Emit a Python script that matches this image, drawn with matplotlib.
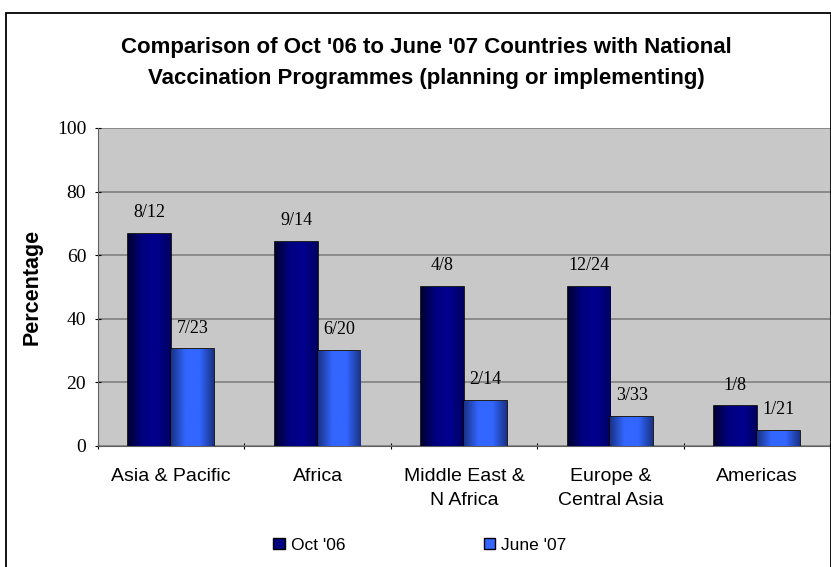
import numpy as np
import matplotlib.pyplot as plt
from matplotlib.colors import LinearSegmentedColormap
from matplotlib.patches import Rectangle

regions = ['Asia & Pacific', 'Africa', 'Middle East &\nN Africa',
           'Europe &\nCentral Asia', 'Americas']
oct06 = [66.7, 64.3, 50.0, 50.0, 12.5]
june07 = [30.4, 30.0, 14.3, 9.1, 4.8]
oct06_labels = ['8/12', '9/14', '4/8', '12/24', '1/8']
june07_labels = ['7/23', '6/20', '2/14', '3/33', '1/21']

dark_cmap = LinearSegmentedColormap.from_list('dk', ['#000033', '#000080', '#00008f', '#000060'])
light_cmap = LinearSegmentedColormap.from_list('lt', ['#1a3388', '#3366ff', '#3366ff', '#1a3388'])

fig = plt.figure(figsize=(8.31, 5.67), dpi=100)
ax = fig.add_axes([98 / 831, (567 - 446) / 567, (830 - 98) / 831, (446 - 128) / 567])

# outer chart border (right and bottom edges fall at the image edge)
fig.patches.append(Rectangle((6 / 831, -5 / 567), 824.5 / 831, 559 / 567,
                             transform=fig.transFigure, fill=False,
                             edgecolor='black', linewidth=1.3))

ax.set_facecolor('#c8c8c8')

x = np.arange(len(regions))
w = 0.293
grad = np.linspace(0, 1, 64).reshape(1, -1)


def gradient_bars(xs, heights, cmap, color):
    rects = ax.bar(xs, heights, w, color=color, edgecolor='black', linewidth=1.2, zorder=3)
    for r in rects:
        im = ax.imshow(grad, cmap=cmap, aspect='auto', zorder=3,
                       extent=(r.get_x(), r.get_x() + r.get_width(), 0, r.get_height()))
        im.set_clip_path(r)
    return rects


r1 = gradient_bars(x - w / 2, oct06, dark_cmap, '#000080')
r2 = gradient_bars(x + w / 2, june07, light_cmap, '#3366ff')
ax.set_xlim(-0.5, len(regions) - 0.5)
ax.set_ylim(0, 100)

for rects, labels in ((r1, oct06_labels), (r2, june07_labels)):
    for r, lab in zip(rects, labels):
        ax.text(r.get_x() + r.get_width() / 2, r.get_height() + 4, lab,
                ha='center', va='bottom', family='Liberation Serif', fontsize=13, zorder=4)

ax.set_yticks(np.arange(0, 101, 20))
ax.yaxis.grid(True, color='#808080', linewidth=1.2, zorder=1)
ax.set_axisbelow(True)
ax.set_xticks(np.arange(-0.5, len(regions) + 0.5, 1))
ax.set_xticklabels([])
ax.set_xticks(x, minor=True)
ax.set_xticklabels(regions, minor=True, family='Liberation Sans', fontsize=14,
                   linespacing=1.55)
ax.tick_params(axis='x', which='minor', length=0, pad=16)
ax.tick_params(axis='x', which='major', length=5, direction='inout')
ax.tick_params(axis='y', length=5, direction='inout', labelsize=14, pad=6)
for lab in ax.get_yticklabels():
    lab.set_family('Liberation Serif')

for s in ('top', 'right'):
    ax.spines[s].set_visible(False)
ax.spines['left'].set_color('#606060')
ax.spines['bottom'].set_color('#606060')

ax.set_ylabel('Percentage', family='Liberation Sans', fontsize=15.5, fontweight='bold', labelpad=10)

fig.text(426 / 831, 1 - 63 / 567,
         "Comparison of Oct '06 to June '07 Countries with National\nVaccination Programmes (planning or implementing)",
         ha='center', va='center', family='Liberation Sans', fontsize=16,
         fontweight='bold', linespacing=1.6)

handles = [Rectangle((0, 0), 1, 1, facecolor='#000080', edgecolor='black'),
           Rectangle((0, 0), 1, 1, facecolor='#3366ff', edgecolor='black')]
fig.legend(handles, ["Oct '06", "June '07"], loc='center', ncol=2,
           bbox_to_anchor=(420 / 831, 1 - 545 / 567), frameon=False,
           prop={'family': 'Liberation Sans', 'size': 12.5},
           handlelength=0.65, handleheight=0.65, handletextpad=0.35, columnspacing=8.0)

fig.savefig('out.png', dpi=100)
